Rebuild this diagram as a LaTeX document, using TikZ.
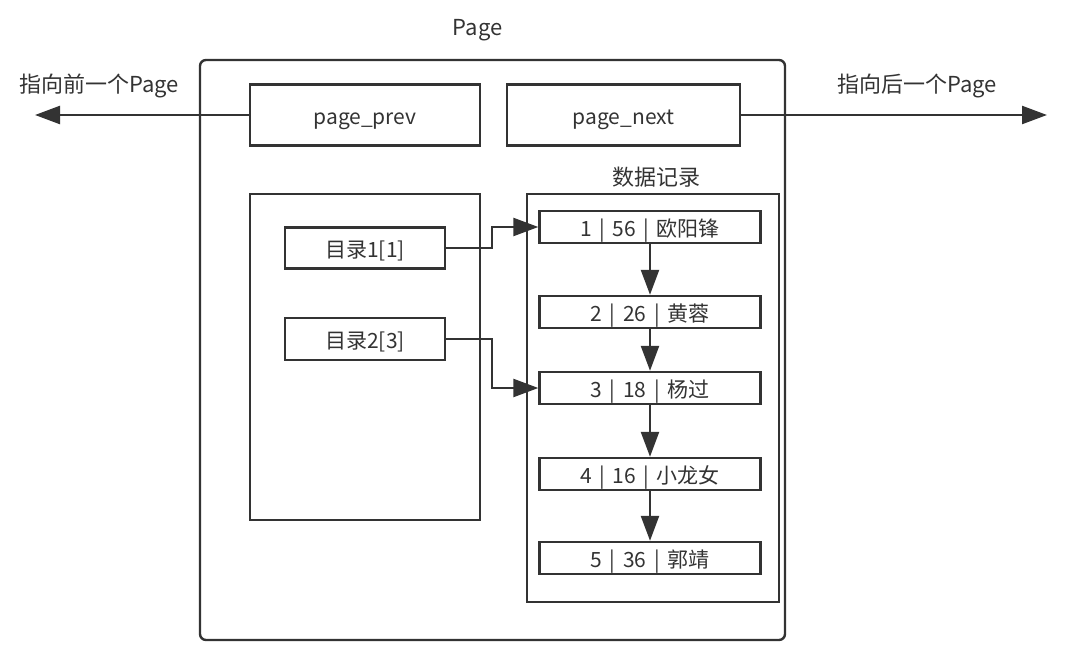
\documentclass[tikz,border=0pt]{standalone}
\usepackage{fontspec}
\setmainfont[WordSpace=1.6]{Noto Sans CJK SC}
\usetikzlibrary{arrows.meta}

\begin{document}
\begin{tikzpicture}[x=1pt, y=-1pt,
    lbl/.style={text=black!80, font=\fontsize{21}{24}\selectfont, inner sep=0pt},
    box/.style={lbl, draw=black!80, line width=2.4pt, text height=18pt, text depth=0pt},
    rec/.style={box, minimum width=221pt, minimum height=32pt},
    arr/.style={draw=black!80, line width=2.4pt, -{Triangle[length=25pt,width=18pt]}}]
        \useasboundingbox (0,0) rectangle (1065,653);
        \node[box, rounded corners=6pt, minimum width=585pt, minimum height=580pt] (page) at (492.5,350) {};
        \node[lbl, anchor=base, font=\fontsize{22}{24}\selectfont] (pagelbl) at (477.5,35) {Page};
        \node[box, minimum width=230pt, minimum height=61pt] (prev) at (365,115) {page\_prev};
        \node[box, minimum width=233pt, minimum height=61pt] (next) at (623.5,115) {page\_next};
        \coordinate (prevend) at (35,115);
        \coordinate (nextend) at (1047,115);
        \draw[arr] (prev.west) -- (prevend);
        \draw[arr] (next.east) -- (nextend);
        \node[lbl, anchor=base, font=\fontsize{22}{24}\selectfont] (prevlbl) at (99,92) {指向前一个Page};
        \node[lbl, anchor=base, font=\fontsize{22}{24}\selectfont] (nextlbl) at (917,92) {指向后一个Page};
        \node[box, minimum width=230pt, minimum height=326pt] (dir) at (365,357) {};
        \node[box, minimum width=160pt, minimum height=41pt] (dir1) at (365,248) {目录1[1]};
        \node[box, minimum width=160pt, minimum height=42pt] (dir2) at (365,339) {目录2[3]};
        \node[lbl, anchor=base, font=\fontsize{22}{24}\selectfont] (datalbl) at (656,185) {数据记录};
        \node[box, minimum width=252pt, minimum height=408pt] (data) at (653,398) {};
        \node[rec] (rec1) at (650,227) {1 | 56 | 欧阳锋};
        \node[rec] (rec2) at (650,312) {2 | 26 | 黄蓉};
        \node[rec] (rec3) at (650,388) {3 | 18 | 杨过};
        \node[rec] (rec4) at (650,474) {4 | 16 | 小龙女};
        \node[rec] (rec5) at (650,558) {5 | 36 | 郭靖};
        \foreach \a/\b in {rec1/rec2, rec2/rec3, rec3/rec4, rec4/rec5}{
            \draw[arr] (\a.south) -- (\b.north);
        }
        \draw[arr] (dir1.east) -- ++(46,0) |- (rec1.west);
        \draw[arr] (dir2.east) -- ++(46,0) |- (rec3.west);
    \end{tikzpicture}
\end{document}
